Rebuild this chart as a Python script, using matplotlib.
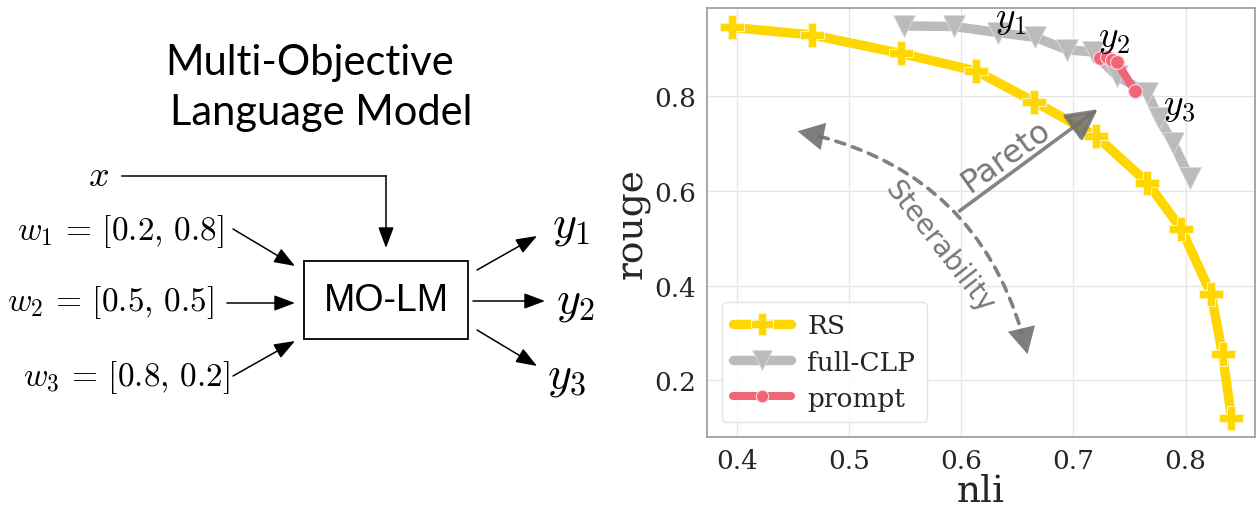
import matplotlib
matplotlib.use("Agg")
import matplotlib.pyplot as plt
from matplotlib.patches import Rectangle, FancyArrowPatch
from matplotlib.lines import Line2D

plt.rcParams["mathtext.fontset"] = "cm"

# ---- Pareto fronts: (nli, rouge) -------------------------------------------
nli_rs = [0.395, 0.467, 0.546, 0.613, 0.665, 0.720, 0.766, 0.796, 0.823, 0.833, 0.841]
rouge_rs = [0.946, 0.930, 0.891, 0.854, 0.789, 0.717, 0.618, 0.521, 0.382, 0.255, 0.121]

nli_clp = [0.549, 0.593, 0.633, 0.666, 0.694, 0.717, 0.739, 0.766, 0.776, 0.789, 0.804]
rouge_clp = [0.949, 0.948, 0.935, 0.925, 0.899, 0.894, 0.843, 0.807, 0.754, 0.701, 0.627]

nli_prompt = [0.724, 0.730, 0.734, 0.739, 0.755]
rouge_prompt = [0.882, 0.884, 0.877, 0.872, 0.811]

series_labels = ["RS", "full-CLP", "prompt"]
series_colors = ["#FFD700", "#BBBBBB", "#EE6677"]

x_ticks = [0.4, 0.5, 0.6, 0.7, 0.8]
y_ticks = [0.2, 0.4, 0.6, 0.8]

# weight vectors fed to the model
weights = [("0.2", "0.8"), ("0.5", "0.5"), ("0.8", "0.2")]

fig = plt.figure(figsize=(12.57, 5.1), dpi=100)

# ---- right: plot of the fronts ---------------------------------------------
ax = fig.add_axes([707 / 1257, 1 - 438 / 510, (1255 - 707) / 1257, (438 - 9) / 510])
ax.set_facecolor("white")
ax.grid(True, color="#e6e6e6", lw=1.0, zorder=0)
ax.set_axisbelow(True)
for s in ax.spines.values():
    s.set_color("#a0a0a0")
    s.set_linewidth(1.3)

ax.plot(nli_rs, rouge_rs, color=series_colors[0], lw=6.8, marker="P", ms=17,
        mec="#fff3b0", mew=0.8, label=series_labels[0], zorder=3,
        solid_capstyle="round")
ax.plot(nli_clp, rouge_clp, color=series_colors[1], lw=6.8, marker="v", ms=16.5,
        mec="#dddddd", mew=0.6, label=series_labels[1], zorder=3,
        solid_capstyle="round")
ax.plot(nli_prompt, rouge_prompt, color=series_colors[2], lw=5.8, marker="o", ms=10,
        mec="#ffd6dc", mew=0.8, label=series_labels[2], zorder=4,
        solid_capstyle="round")

ax.set_xlim(0.373, 0.862)
ax.set_ylim(0.0805, 0.987)
ax.set_xticks(x_ticks)
ax.set_yticks(y_ticks)
ax.tick_params(length=0, pad=8, labelsize=19, labelcolor="#262626")
for lab in ax.get_xticklabels() + ax.get_yticklabels():
    lab.set_family("DejaVu Serif")
ax.set_xlabel("nli", family="DejaVu Serif", fontsize=27, color="#262626", labelpad=0)
ax.set_ylabel("rouge", family="DejaVu Serif", fontsize=27, color="#262626", labelpad=2)

# output labels along the fronts
ax.text(0.644, 0.966, r"$y_1$", fontsize=27, ha="center", va="center", zorder=6)
ax.text(0.736, 0.926, r"$y_2$", fontsize=27, ha="center", va="center", zorder=6)
ax.text(0.794, 0.782, r"$y_3$", fontsize=27, ha="center", va="center", zorder=6)

# Pareto arrow
ax.annotate("", xy=(0.7217, 0.7731), xytext=(0.5983, 0.5581),
            arrowprops=dict(arrowstyle="-|>,head_length=0.95,head_width=0.5",
                            mutation_scale=20, color="#707070", lw=2.6, alpha=0.85,
                            shrinkA=0, shrinkB=0), zorder=5)
ax.text(0.6405, 0.676, "Pareto", rotation=35.5, fontsize=23, color="#777777",
        ha="center", va="center", family="DejaVu Sans", zorder=5)

# Steerability: dashed curve with heads on both ends
p_start, p_end = (0.4538, 0.7266), (0.659, 0.2555)
curve = FancyArrowPatch(p_start, p_end, connectionstyle="arc3,rad=-0.32",
                        arrowstyle="-", color="#808080", lw=2.6,
                        linestyle=(0, (2.6, 2.2)), shrinkA=16, shrinkB=16, zorder=5)
ax.add_patch(curve)
heads = FancyArrowPatch(p_start, p_end, connectionstyle="arc3,rad=-0.32",
                        arrowstyle="<|-|>,head_length=0.95,head_width=0.5",
                        mutation_scale=20, color="#707070", lw=0, alpha=0.9,
                        shrinkA=0, shrinkB=0, zorder=5)
ax.add_patch(heads)
ax.text(0.5805, 0.4837, "Steerability", rotation=-52, fontsize=20, color="#777777",
        ha="center", va="center", family="DejaVu Sans", zorder=5)

leg = ax.legend(loc="lower left", prop=dict(family="DejaVu Serif", size=19),
                handlelength=2.2, markerscale=0.9, labelspacing=0.42,
                borderaxespad=0.55, framealpha=0.85, edgecolor="#dddddd",
                fancybox=True, handletextpad=0.6, borderpad=0.45)
for t in leg.get_texts():
    t.set_color("#262626")

# ---- left: block diagram (pixel coordinates) -------------------------------
dg = fig.add_axes([0, 0, 640 / 1257, 1])
dg.set_xlim(0, 640)
dg.set_ylim(510, 0)
dg.axis("off")

dg.text(310, 63, "Multi-Objective", fontsize=30, family="Lato", ha="center", va="center")
dg.text(321, 113, "Language Model", fontsize=30, family="Lato", ha="center", va="center")

dg.add_patch(Rectangle((304, 262), 164, 78, fill=False, ec="black", lw=1.3))
dg.text(386, 301, "MO-LM", fontsize=27, family="Liberation Sans", ha="center", va="center")

arrow_kw = dict(arrowstyle="-|>,head_length=0.8,head_width=0.3", mutation_scale=16,
                color="black", lw=1.1, shrinkA=0, shrinkB=0)

dg.text(98, 176, r"$x$", fontsize=26, ha="center", va="center")
dg.add_line(Line2D([122, 386], [177, 177], color="black", lw=1.1))
dg.annotate("", xy=(386, 249), xytext=(386, 177), arrowprops=arrow_kw)

w_rows = [(224, 232, (233, 230), (295, 267)),
          (214, 303, (227, 304), (295, 304)),
          (230, 378, (233, 377), (295, 342))]
for i, (wx, wy, a0, a1) in enumerate(w_rows):
    lo, hi = weights[i]
    dg.text(wx, wy, r"$w_%d\,=\,[%s,\,%s]$" % (i + 1, lo, hi),
            fontsize=24, ha="right", va="center")
    dg.annotate("", xy=a1, xytext=a0, arrowprops=arrow_kw)

y_rows = [((477, 271), (537, 237), (571, 226)),
          ((473, 302), (545, 302), (575, 302)),
          ((477, 331), (537, 367), (567, 377))]
for i, (a0, a1, (tx, ty)) in enumerate(y_rows):
    dg.annotate("", xy=a1, xytext=a0, arrowprops=arrow_kw)
    dg.text(tx, ty, r"$y_%d$" % (i + 1), fontsize=33, ha="center", va="center")

fig.savefig("out.png", dpi=100)
